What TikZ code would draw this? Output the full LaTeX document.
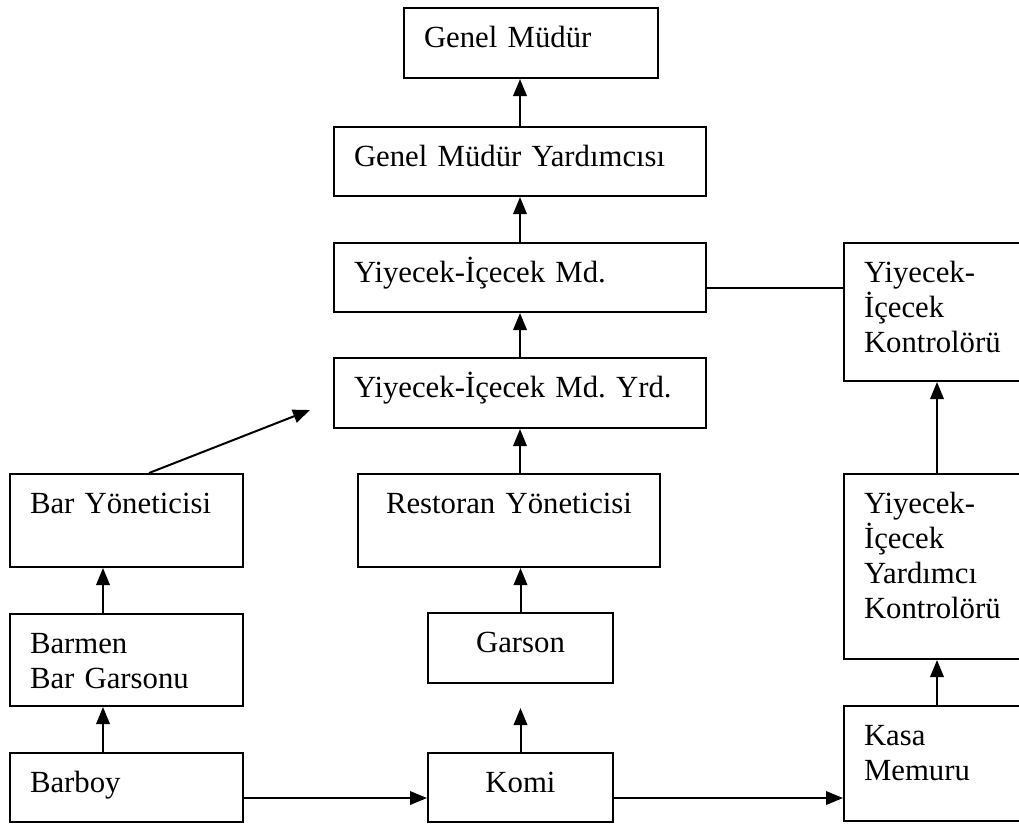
\documentclass[tikz,border=0pt]{standalone}
\usepackage{fontspec}
\setmainfont{Liberation Serif}
\usetikzlibrary{arrows.meta}
\frenchspacing

\begin{document}
\begin{tikzpicture}[x=0.4pt, y=-0.4pt, line width=0.8pt,
    >={Triangle[length=6.8pt, width=5.4pt]},
    post/.style={draw, shape=rectangle, anchor=north west, inner xsep=8pt,
      inner ysep=0pt, text height=15.6pt, align=left,
      font=\fontsize{12.3}{14}\selectfont}]
  \useasboundingbox (0,0) rectangle (1019,823);
  \clip (0,0) rectangle (1019,823);

  \node (gm)     [post, text width=85.6pt,  text depth=12.4pt] at (403,7)   {Genel Müdür};
  \node (gmy)    [post, text width=132.8pt, text depth=12.0pt] at (333,126) {Genel Müdür Yardımcısı};
  \node (yim)    [post, text width=132.8pt, text depth=12.0pt] at (333,242) {Yiyecek-İçecek Md.};
  \node (yimy)   [post, text width=132.8pt, text depth=12.4pt] at (333,357) {Yiyecek-İçecek Md. Yrd.};
  \node (kont)   [post, text width=58.4pt,  text depth=39.6pt] at (843,242) {Yiyecek-\\İçecek\\Kontrolörü};
  \node (baryon) [post, text width=77.2pt,  text depth=21.6pt] at (9,473)   {Bar Yöneticisi};
  \node (rest)   [post, text width=104.8pt, text depth=21.6pt, align=center] at (357,473) {Restoran Yöneticisi};
  \node (ykont)  [post, text width=58.4pt,  text depth=58.4pt] at (843,473) {Yiyecek-\\İçecek\\Yardımcı\\Kontrolörü};
  \node (barmen) [post, text width=77.2pt,  text depth=21.2pt] at (9,613)   {Barmen\\Bar Garsonu};
  \node (garson) [post, text width=58pt,    text depth=12.4pt, align=center] at (427,612) {Garson};
  \node (kasa)   [post, text width=58.4pt,  text depth=30.4pt] at (843,705) {Kasa\\Memuru};
  \node (barboy) [post, text width=77.2pt,  text depth=12.0pt] at (9,752)   {Barboy};
  \node (komi)   [post, text width=58pt,    text depth=12.0pt, align=center] at (427,752) {Komi};

  \coordinate (barcol) at (103,0);
  \coordinate (bartip) at (310,410);
  \coordinate (low) at (0,798);
  \coordinate (mid) at (0,288);

  \draw [->] (gmy.north) -- (gmy.north |- gm.south);
  \draw [->] (yim.north) -- (gmy.south);
  \draw [->] (yimy.north) -- (yim.south);
  \draw [->] (rest.north -| yimy.south) -- (yimy.south);
  \draw [->] (garson.north) -- (garson.north |- rest.south);
  \draw [->, shorten >=9.6pt] (komi.north) -- (komi.north |- garson.south);
  \draw [->] (barmen.north -| barcol) -- (baryon.south -| barcol);
  \draw [->] (barboy.north -| barcol) -- (barmen.south -| barcol);
  \draw [->] ([xshift=9pt]baryon.north) -- (bartip);
  \draw [->] (barboy.east |- low) -- (komi.west |- low);
  \draw [->] (komi.east |- low) -- (kasa.west |- low);
  \draw [->] (kasa.north) -- (ykont.south);
  \draw [->] (ykont.north) -- (kont.south);
  \draw      (yim.east |- mid) -- (kont.west |- mid);
\end{tikzpicture}
\end{document}
